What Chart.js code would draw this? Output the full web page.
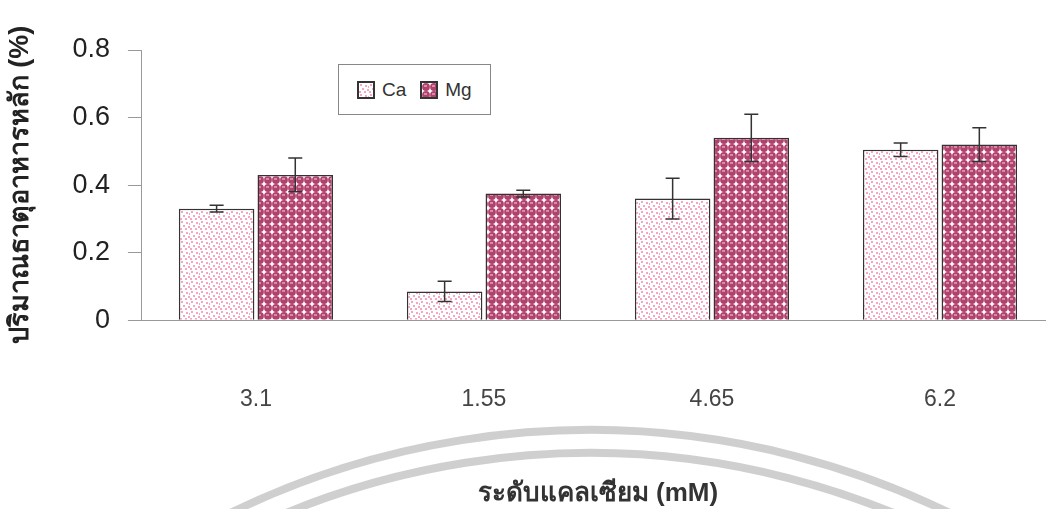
<!DOCTYPE html>
<html>
<head>
<meta charset="utf-8">
<script src="https://cdn.jsdelivr.net/npm/chart.js@4.4.1/dist/chart.umd.min.js"></script>
<style>
    html, body { margin: 0; padding: 0; background: #fff; overflow: hidden; }
    #wrap { position: relative; width: 1046px; height: 509px; overflow: hidden; }
    #legend {
        position: absolute; left: 338px; top: 64px; width: 153px; height: 51px;
        border: 1px solid #888; background: #fff; box-sizing: border-box;
        font: 19px "Liberation Sans", Arial, sans-serif; color: #333;
        display: flex; align-items: center; padding-left: 18px;
    }
    #legend span.sw {
        display: inline-block; width: 14px; height: 14px; border: 2px solid #333;
        margin-right: 7px;
    }
    #legend .item { margin-right: 14px; display: flex; align-items: center; }
</style>
</head>
<body>
<div id="wrap">
    <canvas id="chart" width="1060" height="509"></canvas>
    <div id="legend"></div>
</div>
<script>
// ข้อมูลจากกราฟ
const categories = ["3.1", "1.55", "4.65", "6.2"];
const caValues = [0.33, 0.085, 0.36, 0.505];
const caErrors = [0.01, 0.03, 0.06, 0.02];
const mgValues = [0.43, 0.375, 0.54, 0.52];
const mgErrors = [0.05, 0.01, 0.07, 0.05];
const yTicks = [0, 0.2, 0.4, 0.6, 0.8];

// ลวดลายสำหรับแท่ง Ca (จุดสีชมพู)
function makeCaPattern() {
    const c = document.createElement("canvas");
    c.width = 10; c.height = 10;
    const g = c.getContext("2d");
    g.fillStyle = "#fff";
    g.fillRect(0, 0, 10, 10);
    g.fillStyle = "#f4a6c3";
    [[1, 1], [6, 2], [3, 5], [8, 6], [0, 8], [5, 8], [9, 3]].forEach(([x, y]) => g.fillRect(x, y, 2, 2));
    return c;
}

// ลวดลายสำหรับแท่ง Mg (วงกลมสีแดงเข้ม)
function makeMgPattern() {
    const c = document.createElement("canvas");
    c.width = 8; c.height = 8;
    const g = c.getContext("2d");
    g.fillStyle = "#fff";
    g.fillRect(0, 0, 8, 8);
    g.fillStyle = "#b0426d";
    g.beginPath();
    g.arc(4, 4, 3.9, 0, Math.PI * 2);
    g.fill();
    g.fillStyle = "#d98aa8";
    g.fillRect(2, 2, 3, 2);
    return c;
}

const ctx = document.getElementById("chart").getContext("2d");
const caPat = ctx.createPattern(makeCaPattern(), "repeat");
const mgPat = ctx.createPattern(makeMgPattern(), "repeat");

// legend แบบ HTML
const legendEl = document.getElementById("legend");
[["Ca", makeCaPattern()], ["Mg", makeMgPattern()]].forEach(([name, pc]) => {
    const item = document.createElement("div");
    item.className = "item";
    const sw = document.createElement("span");
    sw.className = "sw";
    sw.style.backgroundImage = "url(" + pc.toDataURL() + ")";
    item.appendChild(sw);
    item.appendChild(document.createTextNode(name));
    legendEl.appendChild(item);
});

// วาดเส้นค่าความคลาดเคลื่อน
const errorBars = {
    id: "errorBars",
    afterDatasetsDraw(chart) {
        const g = chart.ctx;
        const y = chart.scales.y;
        g.save();
        g.strokeStyle = "#333";
        g.lineWidth = 1.5;
        chart.data.datasets.forEach((ds, di) => {
            chart.getDatasetMeta(di).data.forEach((bar, i) => {
                const v = ds.data[i], e = ds.errors[i];
                const top = y.getPixelForValue(v + e);
                const bot = y.getPixelForValue(v - e);
                g.beginPath();
                g.moveTo(bar.x, top); g.lineTo(bar.x, bot);
                g.moveTo(bar.x - 7, top); g.lineTo(bar.x + 7, top);
                g.moveTo(bar.x - 7, bot); g.lineTo(bar.x + 7, bot);
                g.stroke();
            });
        });
        g.restore();
    }
};

// ลายน้ำวงโค้งด้านล่าง
const watermark = {
    id: "watermark",
    beforeDraw(chart) {
        const g = chart.ctx;
        g.save();
        g.strokeStyle = "rgba(175,175,175,0.6)";
        g.lineWidth = 8;
        [820, 797].forEach((r) => {
            g.beginPath();
            g.arc(590, 1250, r, Math.PI * 1.2, Math.PI * 1.8);
            g.stroke();
        });
        g.restore();
    }
};

new Chart(ctx, {
    type: "bar",
    data: {
        labels: categories,
        datasets: [
            {
                label: "Ca",
                data: caValues,
                errors: caErrors,
                backgroundColor: caPat,
                borderColor: "#333",
                borderWidth: 1.5,
                borderSkipped: "bottom",
            },
            {
                label: "Mg",
                data: mgValues,
                errors: mgErrors,
                backgroundColor: mgPat,
                borderColor: "#333",
                borderWidth: 1.5,
                borderSkipped: "bottom",
            },
        ],
    },
    options: {
        responsive: false,
        animation: false,
        layout: { padding: { top: 50, right: 6, left: 0, bottom: 0 } },
        categoryPercentage: 0.69,
        barPercentage: 0.96,
        plugins: {
            legend: { display: false },
            tooltip: { enabled: false },
        },
        scales: {
            x: {
                grid: { display: false },
                border: { display: true, color: "#999", width: 1 },
                ticks: {
                    color: "#444",
                    padding: 58,
                    font: { family: "'Liberation Sans', Arial", size: 23 },
                },
                title: {
                    display: true,
                    text: "ระดับแคลเซียม (mM)",
                    color: "#333",
                    padding: { top: 6, bottom: 0 },
                    font: { family: "'Liberation Sans', Arial", size: 26, weight: "bold" },
                },
            },
            y: {
                min: 0,
                max: 0.8,
                afterBuildTicks: (scale) => { scale.ticks = yTicks.map((v) => ({ value: v })); },
                grid: { drawOnChartArea: false, tickLength: 14, color: "#999" },
                border: { display: true, color: "#999", width: 1 },
                ticks: {
                    color: "#222",
                    padding: 18,
                    font: { family: "'Liberation Sans', Arial", size: 27 },
                    callback: (v) => String(v),
                },
                title: {
                    display: true,
                    text: "ปริมาณธาตุอาหารหลัก (%)",
                    color: "#222",
                    padding: { bottom: 18 },
                    font: { family: "'Liberation Sans', Arial", size: 27, weight: "bold" },
                },
            },
        },
    },
    plugins: [errorBars, watermark],
});
</script>
</body>
</html>
